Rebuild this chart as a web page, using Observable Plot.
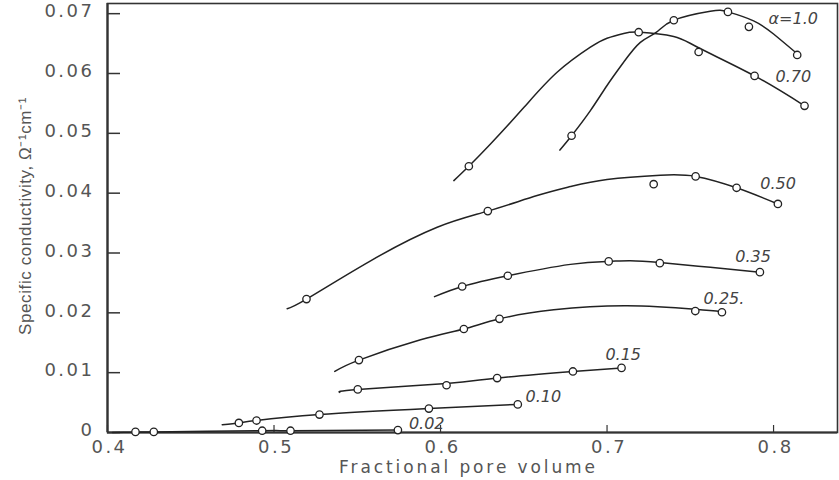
<!DOCTYPE html>
<html>
<head>
<meta charset="utf-8">
<script src="https://cdn.jsdelivr.net/npm/d3@7"></script>
<script src="https://cdn.jsdelivr.net/npm/@observablehq/plot@0.6"></script>
<style>
  html, body { margin: 0; padding: 0; background: #fff; }
  #chart svg { display: block; }
  g[aria-label="y-axis tick label"] text, g[aria-label="x-axis tick label"] text { letter-spacing: 2.5px; }
</style>
</head>
<body>
<div id="chart"></div>
<script>
// ---- Data ----
const xTicks = [0.4, 0.5, 0.6, 0.7, 0.8];
const yTicks = [0, 0.01, 0.02, 0.03, 0.04, 0.05, 0.06, 0.07];

const seriesNames = ["1.0", "0.70", "0.50", "0.35", "0.25", "0.15", "0.10", "0.02"];
const seriesLabels = ["α=1.0", "0.70", "0.50", "0.35", "0.25.", "0.15", "0.10", "0.02"];
const labelX = [0.797, 0.8012, 0.792, 0.777, 0.758, 0.699, 0.651, 0.581];
const labelY = [0.0692, 0.0595, 0.0416, 0.0294, 0.0224, 0.0130, 0.0060, 0.0015];

// fitted curves (as drawn)
const a100Curve = [[0.6717,0.0472],[0.6787,0.0496],[0.690,0.0538],[0.700,0.0580],[0.710,0.0619],[0.720,0.0652],[0.7297,0.0669],[0.7401,0.0689],[0.762,0.0704],[0.7726,0.0703],[0.788,0.0688],[0.800,0.0666],[0.8142,0.0633]];
const a070Curve = [[0.608,0.0421],[0.617,0.0445],[0.630,0.0482],[0.650,0.0543],[0.670,0.0602],[0.690,0.0644],[0.700,0.0659],[0.710,0.0667],[0.720,0.0669],[0.740,0.0662],[0.755,0.0643],[0.7886,0.0596],[0.8186,0.0546]];
const a050Curve = [[0.5079,0.0207],[0.5195,0.0223],[0.558,0.0287],[0.598,0.0343],[0.6284,0.0370],[0.658,0.0396],[0.678,0.0411],[0.700,0.0423],[0.732,0.0430],[0.7532,0.0428],[0.7778,0.0409],[0.8026,0.0382]];
const a035Curve = [[0.5964,0.0227],[0.613,0.0244],[0.6404,0.0262],[0.678,0.0281],[0.701,0.0286],[0.714,0.0287],[0.7317,0.0284],[0.762,0.0276],[0.7918,0.0268]];
const a025Curve = [[0.5365,0.0102],[0.551,0.0121],[0.588,0.0155],[0.614,0.0173],[0.6354,0.0190],[0.668,0.0205],[0.712,0.0212],[0.753,0.0206],[0.769,0.0202]];
const a015Curve = [[0.5395,0.0067],[0.5503,0.0072],[0.6036,0.0082],[0.634,0.0091],[0.6795,0.0102],[0.7087,0.0108]];
const a010Curve = [[0.4689,0.0013],[0.4789,0.0016],[0.4895,0.0020],[0.5273,0.0030],[0.593,0.0040],[0.6464,0.0047]];
const a002Curve = [[0.403,0.0000],[0.4168,0.0001],[0.4278,0.0001],[0.4929,0.0003],[0.5099,0.0003],[0.5744,0.0004]];

// measured points
const a100Points = [[0.6787,0.0496],[0.7401,0.0689],[0.7726,0.0703],[0.7852,0.0678],[0.8142,0.0631]];
const a070Points = [[0.617,0.0445],[0.719,0.0669],[0.755,0.0636],[0.7886,0.0596],[0.8186,0.0546]];
const a050Points = [[0.5195,0.0223],[0.6284,0.0370],[0.728,0.0415],[0.7532,0.0428],[0.7778,0.0409],[0.8026,0.0382]];
const a035Points = [[0.613,0.0244],[0.6404,0.0262],[0.701,0.0286],[0.7317,0.0283],[0.7918,0.0268]];
const a025Points = [[0.551,0.0121],[0.614,0.0173],[0.6354,0.0190],[0.753,0.0203],[0.769,0.0201]];
const a015Points = [[0.5503,0.0072],[0.6036,0.0079],[0.634,0.0091],[0.6795,0.0102],[0.7087,0.0108]];
const a010Points = [[0.4789,0.0016],[0.4895,0.0020],[0.5273,0.0030],[0.593,0.0040],[0.6464,0.0047]];
const a002Points = [[0.4168,0.0001],[0.4278,0.0001],[0.4929,0.0003],[0.5099,0.0003],[0.5744,0.0004]];

const xLabel = "Fractional pore volume";
const yLabel = "Specific conductivity, Ω⁻¹cm⁻¹";

// ---- Build tables ----
const curves = [a100Curve, a070Curve, a050Curve, a035Curve, a025Curve, a015Curve, a010Curve, a002Curve];
const points = [a100Points, a070Points, a050Points, a035Points, a025Points, a015Points, a010Points, a002Points];
const curveRows = curves.flatMap((c, i) => c.map(([x, y]) => ({series: seriesNames[i], x, y})));
const pointRows = points.flatMap((c, i) => c.map(([x, y]) => ({series: seriesNames[i], x, y})));
const labelRows = seriesLabels.map((t, i) => ({text: t, x: labelX[i], y: labelY[i]}));

const W = 839, H = 480;
const mL = 107, mR = 2, mT = 3, mB = 48;
const innerW = W - mL - mR, innerH = H - mT - mB;
const ink = "#222";
const tickFont = "DejaVu Sans, sans-serif";

const chart = Plot.plot({
  width: W,
  height: H,
  marginLeft: mL,
  marginRight: mR,
  marginTop: mT,
  marginBottom: mB,
  x: {domain: [0.4, 0.8384]},
  y: {domain: [0, 0.0717]},
  style: {background: "#fff", color: ink},
  marks: [
    Plot.frame({stroke: "#333", strokeWidth: 1.6}),
    Plot.ruleX([0.4], {stroke: "#333", strokeWidth: 2.2}),
    Plot.ruleY([0], {stroke: "#333", strokeWidth: 2.2}),
    Plot.tickY(yTicks, {y: d => d, insetRight: innerW - 13, stroke: "#333", strokeWidth: 1.5}),
    Plot.tickX(xTicks, {x: d => d, insetTop: innerH - 7, stroke: "#333", strokeWidth: 1.2}),
    Plot.axisY({ticks: yTicks, tickSize: 0, tickPadding: 13, dy: -2, tickFormat: d => d === 0 ? "0" : d.toFixed(2),
      fontSize: 18, fontFamily: tickFont, fill: "#555", label: null}),
    Plot.axisX({ticks: xTicks, tickSize: 0, tickPadding: 8, tickFormat: d => d.toFixed(1), dx: 2,
      fontSize: 18, fontFamily: tickFont, fill: "#555", label: null}),
    Plot.text([yLabel], {frameAnchor: "left", textAnchor: "middle", dx: -82, dy: -2, rotate: -90, fontSize: 17,
      fontFamily: "Liberation Sans Narrow, Arial Narrow, sans-serif", fill: "#555"}),
    Plot.text([xLabel], {frameAnchor: "bottom", textAnchor: "middle", dx: -4, dy: 40, fontSize: 17,
      fontFamily: tickFont, fill: "#555"}),
    Plot.line(curveRows, {x: "x", y: "y", z: "series", curve: "natural", stroke: ink, strokeWidth: 1.5}),
    Plot.dot(pointRows, {x: "x", y: "y", r: 3.7, fill: "white", stroke: ink, strokeWidth: 1.3}),
    Plot.text(labelRows, {x: "x", y: "y", text: "text", textAnchor: "start", fontSize: 16,
      fontStyle: "italic", fontFamily: tickFont, fill: "#444"})
  ]
});
// letter spacing for the two axis titles
d3.select(chart).selectAll("text")
  .filter(function () { return this.textContent === xLabel; })
  .attr("letter-spacing", "2.9px");
d3.select(chart).selectAll("text")
  .filter(function () { return this.textContent === yLabel; })
  .attr("letter-spacing", "0.6px");
document.getElementById("chart").appendChild(chart);
</script>
</body>
</html>
